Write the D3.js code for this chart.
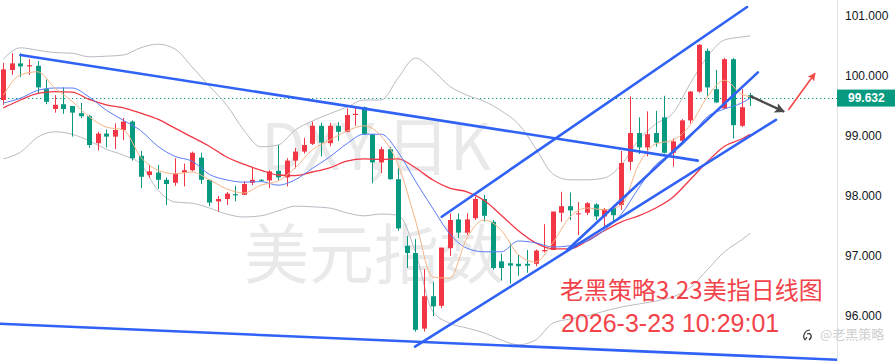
<!DOCTYPE html>
<html>
<head>
<meta charset="utf-8">
<script src="https://cdn.jsdelivr.net/npm/d3@7/dist/d3.min.js"></script>
<style>
  body { margin: 0; background: #fff; }
  svg { display: block; }
</style>
</head>
<body>
<div id="container"></div>
<script>
/* global d3 */

var w = 895,
    h = 362,
    plotW = 837;

// daily candles, oldest first
var opens = [99.60,100.10,100.21,100.16,100.17,99.78,99.45,99.53,99.50,99.38,
             99.33,98.88,99.04,98.99,99.10,99.24,98.67,98.35,98.39,98.27,
             98.22,98.39,98.43,98.64,98.27,97.91,97.95,98.03,98.02,98.22,
             98.27,98.26,98.42,98.31,98.59,98.74,98.87,99.17,98.88,99.17,
             99.07,99.35,99.48,99.03,98.56,98.78,98.28,97.17,97.05,95.79,
             96.33,96.17,97.13,97.61,97.39,97.63,97.95,97.57,96.91,96.88,
             96.87,96.87,96.87,97.08,97.10,97.72,97.83,97.70,97.72,97.86,
             97.66,97.80,97.85,98.57,99.05,98.81,99.05,99.31,98.72,98.92,
             99.26,99.74,100.42,99.78,99.46,100.28,99.17,99.68];
var highs = [100.22,100.38,100.38,100.28,100.25,99.94,99.68,99.81,99.50,99.55,
             99.35,99.07,99.11,99.21,99.30,99.26,98.75,98.52,98.52,98.31,
             98.63,98.54,98.74,98.72,98.27,98.00,98.07,98.17,98.25,98.48,
             98.28,98.43,98.85,98.63,98.80,98.97,99.24,99.22,99.22,99.23,
             99.46,99.48,99.49,99.03,98.82,98.82,98.46,97.33,97.28,96.78,
             96.57,97.14,97.71,97.71,97.71,97.99,98.02,97.60,97.04,97.22,
             97.02,97.10,97.11,97.53,97.74,98.07,98.06,97.90,97.90,97.88,
             97.80,97.81,98.75,99.66,99.31,99.41,99.42,99.67,98.96,99.28,
             99.75,100.53,100.46,100.10,100.30,100.30,99.78,99.72];
var lows = [99.52,100.02,99.98,100.02,99.71,99.53,99.39,99.37,98.99,99.30,
            98.80,98.76,98.81,98.78,98.93,98.59,98.13,98.30,98.12,97.85,
            98.17,98.16,98.41,98.20,97.83,97.74,97.85,97.91,98.02,98.18,
            98.25,98.13,98.26,98.16,98.46,98.71,98.85,98.66,98.83,98.92,
            99.06,99.17,99.02,98.21,98.38,98.27,97.42,96.80,95.74,95.74,
            96.00,96.13,97.00,97.30,97.35,97.60,97.57,96.77,96.59,96.54,
            96.67,96.72,96.83,97.06,97.10,97.57,97.60,97.35,97.68,97.60,
            97.49,97.56,97.77,98.43,98.70,98.66,98.82,98.71,98.49,98.88,
            99.21,99.72,99.67,99.55,99.45,98.96,99.15,99.50];
var closes = [100.11,100.21,100.16,100.18,99.81,99.57,99.52,99.45,99.39,99.33,
              98.85,99.04,98.99,99.10,99.24,98.63,98.32,98.41,98.27,98.20,
              98.38,98.43,98.72,98.27,97.89,97.95,98.04,98.01,98.20,98.27,
              98.26,98.41,98.31,98.59,98.74,98.85,99.17,98.89,99.17,99.07,
              99.35,99.37,99.03,98.56,98.78,98.28,97.46,97.05,95.77,96.33,
              96.16,97.14,97.60,97.39,97.61,97.95,97.67,96.80,96.80,96.84,
              96.83,96.84,97.09,97.10,97.74,97.83,97.76,97.71,97.88,97.66,
              97.78,97.68,98.55,99.05,98.81,99.03,98.89,98.72,98.91,99.26,
              99.74,100.52,99.81,99.56,100.28,99.18,99.48,99.632];

// indicator lines, read every second bar
var lineIdx = [0,2,4,6,8,10,12,14,16,18,20,22,24,26,28,30,32,34,36,38,40,42,
               44,46,48,50,52,54,56,58,60,62,64,66,68,70,72,74,76,78,80,82,84,86,87];
var bbUpper = [100.28,100.47,100.43,100.39,100.38,100.32,100.33,100.35,100.47,100.53,
               100.45,100.15,99.83,99.52,99.10,98.82,98.85,99.10,99.25,99.37,
               99.48,99.60,99.60,99.97,100.30,100.10,99.83,99.68,99.58,99.42,
               99.20,98.80,98.37,98.27,98.27,98.30,98.52,98.93,99.20,99.38,
               99.87,100.32,100.60,100.65,100.67];
var bbLower = [98.62,98.73,98.98,99.07,99.03,98.92,98.78,98.68,98.53,98.10,
               97.90,97.88,97.80,97.70,97.65,97.67,97.75,97.83,97.82,97.80,
               97.72,97.67,97.70,97.68,97.07,96.08,95.88,95.80,95.72,95.60,
               95.52,95.60,95.88,95.95,96.00,96.08,96.15,96.20,96.25,96.32,
               96.47,96.77,97.07,97.27,97.38];
var ma5 = [99.68,100.02,100.07,99.80,99.58,99.32,99.15,99.10,98.65,98.43,
           98.37,98.40,98.27,98.12,98.05,98.18,98.25,98.47,98.77,98.93,
           99.08,99.17,99.00,98.52,97.60,96.65,96.63,97.30,97.60,97.43,
           97.02,96.90,97.22,97.65,97.80,97.77,97.85,98.52,98.87,98.93,
           99.18,99.65,99.93,99.70,99.65];
var ma10 = [99.55,99.63,99.76,99.80,99.80,99.65,99.43,99.26,99.09,98.83,
            98.66,98.58,98.36,98.27,98.23,98.24,98.18,98.27,98.46,98.65,
            98.87,99.03,99.03,98.73,98.25,97.80,97.37,97.13,97.07,97.07,
            97.25,97.22,97.15,97.17,97.25,97.43,97.70,98.13,98.52,98.72,
            98.98,99.32,99.45,99.55,99.63];
var ma20 = [99.47,99.60,99.71,99.74,99.73,99.61,99.52,99.47,99.38,99.28,
            99.13,98.98,98.83,98.65,98.53,98.43,98.35,98.34,98.40,98.47,
            98.58,98.62,98.61,98.62,98.47,98.27,98.13,98.07,97.93,97.68,
            97.42,97.22,97.12,97.12,97.25,97.42,97.57,97.67,97.80,97.98,
            98.27,98.57,98.83,98.95,99.03];

var priceTicks = [96, 97, 98, 99, 100, 101];
var lastPrice = 99.632;

// hand drawn trend lines: [bar, price] -> [bar, price]
var trendLines = [
    [[2.0, 100.35], [80.9, 98.59]],
    [[-0.4, 95.87], [97.2, 95.27]],
    [[47.96, 95.49], [90.0, 99.27]],
    [[51.07, 97.655], [86.63, 101.15]],
    [[65.7, 97.10], [87.9, 100.06]]
];
var arrowDown = [[87.0, 99.667], [90.94, 99.405]];
var arrowUp = [[91.44, 99.433], [94.55, 100.045]];

var upColor = '#f23645',
    downColor = '#089981';

var svg = d3.select('#container')
    .append('svg')
    .attr('width', w)
    .attr('height', h)
    .style('font-family', '"Liberation Sans", Arial, sans-serif');

svg.append('rect').attr('width', w).attr('height', h).attr('fill', '#fff');

var defs = svg.append('defs');
defs.append('clipPath').attr('id', 'plot')
    .append('rect').attr('width', plotW).attr('height', h);

defs.append('marker')
    .attr('id', 'headDark')
    .attr('viewBox', '0 0 10 10')
    .attr('refX', 9).attr('refY', 5)
    .attr('markerWidth', 5).attr('markerHeight', 4.2)
    .attr('markerUnits', 'strokeWidth')
    .attr('orient', 'auto')
    .append('path').attr('d', 'M0,0L10,5L0,10L2,5Z').attr('fill', '#4b4b4b');

defs.append('marker')
    .attr('id', 'headRed')
    .attr('viewBox', '0 0 10 10')
    .attr('refX', 9).attr('refY', 5)
    .attr('markerWidth', 7).attr('markerHeight', 5)
    .attr('markerUnits', 'strokeWidth')
    .attr('orient', 'auto')
    .append('path').attr('d', 'M0,0L10,5L0,10L2,5Z').attr('fill', '#f24848');

var x = d3.scaleLinear().domain([0, 87]).range([3.3, 750.2]);
var y = d3.scaleLinear().domain([96, 101]).range([316, 16]);

var plot = svg.append('g').attr('clip-path', 'url(#plot)');

// watermark
var wm = plot.append('g')
    .attr('fill', '#000')
    .attr('fill-opacity', 0.085)
    .style('font-family', '"Noto Sans CJK SC", "Noto Sans", sans-serif')
    .attr('text-anchor', 'middle');
wm.append('text').attr('x', 376).attr('y', 170).attr('font-size', 64).text('DXY,日K');
wm.append('text').attr('x', 374).attr('y', 278).attr('font-size', 65).text('美元指数');

// last price dotted line
plot.append('line')
    .attr('x1', 0).attr('x2', plotW)
    .attr('y1', Math.round(y(lastPrice)) + 0.5)
    .attr('y2', Math.round(y(lastPrice)) + 0.5)
    .attr('stroke', downColor)
    .attr('stroke-width', 1.2)
    .attr('stroke-dasharray', '1.3,2.7');

var line = d3.line()
    .x(function(d) { return x(d[0]); })
    .y(function(d) { return y(d[1]); })
    .curve(d3.curveMonotoneX);

function series(vals) {
    return vals.map(function(v, k) { return [lineIdx[k], v]; });
}

// bollinger bands
[bbUpper, bbLower].forEach(function(vals) {
    plot.append('path')
        .attr('d', line(series(vals)))
        .attr('fill', 'none')
        .attr('stroke', '#b9bbc4')
        .attr('stroke-width', 1);
});

// candles
var bars = d3.range(closes.length).map(function(i) {
    return { i: i, o: opens[i], h: highs[i], l: lows[i], c: closes[i] };
});

var candle = plot.selectAll('.candle').data(bars)
    .enter()
    .append('g')
    .attr('class', 'candle')
    .attr('fill', function(d) { return d.c >= d.o ? upColor : downColor; })
    .attr('stroke', function(d) { return d.c >= d.o ? upColor : downColor; });

candle.append('line')
    .attr('x1', function(d) { return Math.round(x(d.i)) + 0.5; })
    .attr('x2', function(d) { return Math.round(x(d.i)) + 0.5; })
    .attr('y1', function(d) { return y(d.h); })
    .attr('y2', function(d) { return y(d.l); })
    .attr('stroke-width', 1);

candle.append('rect')
    .attr('stroke', 'none')
    .attr('x', function(d) { return Math.round(x(d.i)) - 2; })
    .attr('width', 5)
    .attr('y', function(d) { return y(Math.max(d.o, d.c)); })
    .attr('height', function(d) { return Math.max(1, Math.abs(y(d.o) - y(d.c))); });

// moving averages
[[ma20, '#f23645', 1.3], [ma10, '#5b7cf7', 1], [ma5, '#f6b483', 1]].forEach(function(s) {
    plot.append('path')
        .attr('d', line(series(s[0])))
        .attr('fill', 'none')
        .attr('stroke', s[1])
        .attr('stroke-width', s[2]);
});

// trend lines
var straight = d3.line()
    .x(function(d) { return x(d[0]); })
    .y(function(d) { return y(d[1]); });

plot.selectAll('.trend').data(trendLines)
    .enter()
    .append('path')
    .attr('class', 'trend')
    .attr('d', straight)
    .attr('fill', 'none')
    .attr('stroke', '#2f62f5')
    .attr('stroke-width', 2.6)
    .attr('stroke-linecap', 'round');

plot.append('path')
    .attr('d', straight(arrowDown))
    .attr('stroke', '#4b4b4b')
    .attr('stroke-width', 2.4)
    .attr('marker-end', 'url(#headDark)');

plot.append('path')
    .attr('d', straight(arrowUp))
    .attr('stroke', '#f24848')
    .attr('stroke-width', 1.6)
    .attr('marker-end', 'url(#headRed)');

// red note
var note = plot.append('g')
    .attr('fill', '#f2434a');
note.append('text')
    .attr('x', 560).attr('y', 299)
    .attr('font-size', 24)
    .style('font-family', '"Noto Sans CJK SC", sans-serif')
    .text('老黑策略3.23美指日线图');
note.append('text')
    .attr('x', 561).attr('y', 331.5)
    .attr('font-size', 25)
    .style('font-family', '"Liberation Sans", Arial, sans-serif')
    .text('2026-3-23 10:29:01');

// price axis
svg.append('line')
    .attr('x1', plotW + 0.5).attr('x2', plotW + 0.5)
    .attr('y1', 0).attr('y2', h)
    .attr('stroke', '#e0e3eb');

var axis = svg.append('g')
    .attr('transform', 'translate(' + plotW + ',0)')
    .call(d3.axisRight(y).tickValues(priceTicks).tickSize(0).tickPadding(8)
        .tickFormat(d3.format('.3f')));
axis.select('.domain').remove();
axis.selectAll('text')
    .attr('fill', '#131722')
    .attr('font-size', 12)
    .style('font-family', '"Liberation Sans", Arial, sans-serif');

svg.append('rect')
    .attr('x', plotW).attr('width', w - plotW)
    .attr('y', y(lastPrice) - 8.5).attr('height', 17)
    .attr('fill', downColor);
svg.append('text')
    .attr('x', 848).attr('y', y(lastPrice))
    .attr('dy', '0.35em')
    .attr('fill', '#fff')
    .attr('font-size', 12)
    .attr('font-weight', 'bold')
    .text(d3.format('.3f')(lastPrice));

// account watermark
var mark = svg.append('g').attr('transform', 'translate(808,335)');
mark.append('path')
    .attr('d', 'M-3,5 C-6,1 -3,-5 2,-5 M-1,-1 C3,-3 5,2 1,5 M-3,5 L-1,2')
    .attr('fill', 'none')
    .attr('stroke', '#333')
    .attr('stroke-width', 1.2);
svg.append('text')
    .attr('x', 820).attr('y', 339)
    .attr('font-size', 13)
    .attr('fill', '#cfcfcf')
    .style('font-family', '"Noto Sans CJK SC", sans-serif')
    .text('@老黑策略');
</script>
</body>
</html>
